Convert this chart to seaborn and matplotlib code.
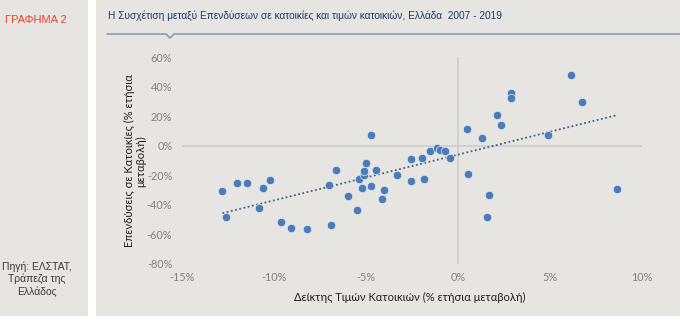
import matplotlib
matplotlib.use("Agg")
import matplotlib.pyplot as plt
import seaborn as sns
import pandas as pd
import numpy as np
from matplotlib.patches import Rectangle
from matplotlib.lines import Line2D

# Data (% annual change)
price_index = [-12.8, -12.6, -12.0, -11.47, -10.6, -10.2, -10.8, -9.6, -9.1, -8.2,
               -6.9, -7.0, -6.63, -6.0, -5.5, -5.4, -5.2, -5.1, -5.1, -5.0,
               -4.74, -4.74, -4.44, -4.12, -4.02, -3.32, -2.55, -1.93, -2.55, -1.83,
               -1.53, -1.13, -0.98, -0.70, -0.46, 0.56, 0.47, 1.29, 1.69, 1.58,
               2.14, 2.36, 2.87, 2.87, 4.88, 6.14, 6.74, 8.64]
housing_invest = [-30.5, -48.5, -24.9, -25.5, -28.7, -23.1, -42.2, -51.4, -55.4, -56.1,
                  -53.6, -26.8, -16.1, -33.8, -43.5, -22.5, -28.7, -19.9, -17.4, -11.4,
                  -27.5, 7.0, -16.1, -35.8, -29.9, -19.8, -9.0, -8.4, -23.7, -22.4,
                  -3.3, -1.4, -2.6, -3.3, -8.3, -19.0, 11.3, 5.0, -33.0, -48.4,
                  21.0, 13.8, 35.7, 32.3, 7.0, 47.7, 29.8, -29.5]
x_ticks = [-15, -10, -5, 0, 5, 10]
y_ticks = [-80, -60, -40, -20, 0, 20, 40, 60]

title = "Η Συσχέτιση μεταξύ Επενδύσεων σε κατοικίες και τιμών κατοικιών, Ελλάδα  2007 - 2019"
chart_no = "ΓΡΑΦΗΜΑ 2"
source = "Πηγή: ΕΛΣΤΑΤ,\nΤράπεζα της\nΕλλάδος"
xlabel = "Δείκτης Τιμών Κατοικιών (% ετήσια μεταβολή)"
ylabel = "Επενδύσεις σε Κατοικίες (% ετήσια\nμεταβολή)"

df = pd.DataFrame({"x": price_index, "y": housing_invest})

sns.set_theme(style="white")
plt.rcParams['font.family'] = ['Liberation Sans', 'DejaVu Sans']

W, H = 680, 323
fig = plt.figure(figsize=(6.8, 3.23), dpi=100)
fig.patch.set_facecolor("white")
panel = "#e6e5e1"
fig.patches.append(Rectangle((0, (H - 316) / H), 88 / W, 316 / H, transform=fig.transFigure,
                             facecolor=panel, edgecolor="none", zorder=-10))
fig.patches.append(Rectangle((96 / W, (H - 316) / H), (W - 96) / W, 316 / H, transform=fig.transFigure,
                             facecolor=panel, edgecolor="none", zorder=-10))

ax = fig.add_axes([182 / W, (H - 264) / H, 460 / W, 207 / H])
ax.set_zorder(5)
ax.set_facecolor("none")
ax.patch.set_alpha(0)

ax.axhline(0, color="#cfceca", lw=1.2, zorder=1)
ax.axvline(0, color="#cfceca", lw=1.2, zorder=1)

sns.regplot(data=df, x="x", y="y", ax=ax, scatter=False, ci=None, truncate=True,
            line_kws=dict(color="#4a5f7e", lw=1.3, linestyle=(0, (1, 1.4)), zorder=2))
sns.scatterplot(data=df, x="x", y="y", ax=ax, color="#4a7cba", s=36,
                edgecolor="#dfe6f0", linewidth=0.5, zorder=3)
ax.set_xlim(-15, 10)
ax.set_ylim(-80, 60)

for s in ax.spines.values():
    s.set_visible(False)
ax.set_xticks(x_ticks)
ax.set_xticklabels([f"{v}%" for v in x_ticks])
ax.set_yticks(y_ticks)
ax.set_yticklabels([f"{v}%" for v in y_ticks])
ax.tick_params(axis="both", length=0, labelsize=7.8, labelcolor="#808080")
ax.tick_params(axis="y", pad=7)
ax.tick_params(axis="x", pad=6)
for lab in ax.get_xticklabels() + ax.get_yticklabels():
    lab.set_family(["Lato", "DejaVu Sans"])
ax.set_xlabel("")
ax.set_ylabel("")
ax.grid(False)

fig.text(410 / W, 1 - 297 / H, xlabel, ha="center", va="center", fontsize=8,
         color="#1e1e1e", family=["Lato", "DejaVu Sans"])
fig.text(135 / W, 1 - 161 / H, ylabel, ha="center", va="center", rotation=90,
         fontsize=8, color="#1e1e1e", family=["Lato", "DejaVu Sans"], linespacing=1.0)

fig.text(108 / W, 1 - 16 / H, title, ha="left", va="center", fontsize=7.3,
         color="#1f3864", family=["Liberation Sans Narrow", "Liberation Sans", "DejaVu Sans"])
fig.text(5 / W, 1 - 20 / H, chart_no, ha="left", va="center", fontsize=8,
         color="#e8452e", family=["Liberation Sans Narrow", "Liberation Sans", "DejaVu Sans"])
fig.text(37 / W, 1 - 279 / H, source, ha="center", va="center", fontsize=7.5,
         color="#3a3a3a", linespacing=1.25,
         family=["Liberation Sans Narrow", "Liberation Sans", "DejaVu Sans"])

# underline with notch
ly = 1 - 34 / H
xs = np.array([107, 166, 170, 174, 680]) / W
ys = np.array([ly, ly, ly - 4 / H, ly, ly])
fig.lines.append(Line2D(xs, ys, transform=fig.transFigure, color="#8a9bb0", lw=1.2))

fig.savefig("out.png", dpi=100)
